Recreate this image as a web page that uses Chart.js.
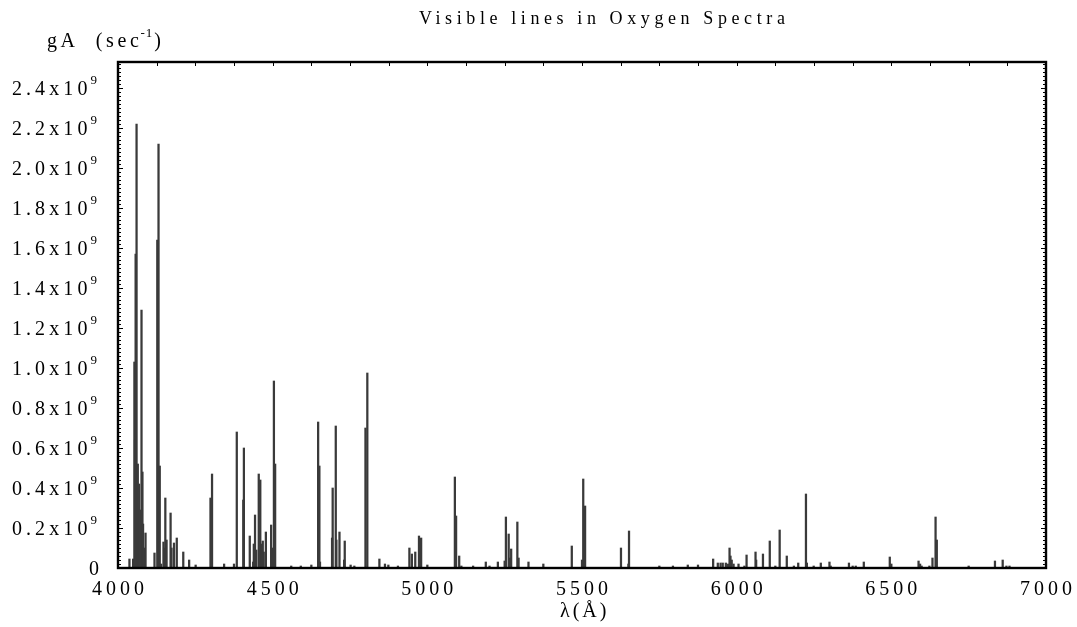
<!DOCTYPE html>
<html>
<head>
<meta charset="utf-8">
<script src="https://cdn.jsdelivr.net/npm/chart.js@4/dist/chart.umd.min.js"></script>
<style>
  html, body { margin: 0; padding: 0; background: #fff; }
  #wrap { width: 1077px; height: 627px; }
</style>
</head>
<body>
<div id="wrap"><canvas id="spectrum" width="1077" height="627"></canvas></div>
<script>
// wavelength of each line (Angstrom)
const lambdas = [
  4037, 4049, 4053, 4055, 4057, 4060, 4064, 4068, 4071, 4076, 4079, 4081, 4084, 4089,
  4118, 4127, 4131, 4135, 4139, 4147, 4149, 4153, 4157, 4170, 4173, 4181, 4190, 4211,
  4230, 4251, 4299, 4304, 4343, 4375, 4384, 4405, 4407, 4426, 4437, 4439, 4443, 4447,
  4455, 4460, 4463, 4468, 4471, 4478, 4495, 4499, 4504, 4508, 4560, 4591, 4625, 4647,
  4651, 4653, 4692, 4694, 4704, 4706, 4716, 4731, 4733, 4752, 4764, 4800, 4806, 4845,
  4863, 4874, 4905, 4942, 4950, 4961, 4973, 4980, 5000, 5089, 5093, 5103, 5110, 5148,
  5189, 5201, 5228, 5250, 5254, 5263, 5267, 5271, 5291, 5295, 5327, 5375, 5467, 5500,
  5504, 5510, 5626, 5650, 5652, 5750, 5794, 5842, 5875, 5924, 5939, 5948, 5955, 5965,
  5972, 5977, 5980, 5984, 5990, 6006, 6025, 6032, 6061, 6063, 6085, 6107, 6125, 6139,
  6162, 6185, 6199, 6224, 6227, 6249, 6272, 6300, 6304, 6363, 6375, 6385, 6411, 6495,
  6500, 6588, 6593, 6598, 6623, 6633, 6643, 6647, 6750, 6835, 6860, 6872, 6882
];
// gA of each line, in units of 1e9 per second
const gA = [
  0.045, 0.045, 1.03, 0.64, 1.57, 2.22, 0.52, 0.42, 0.29, 1.29, 0.48, 0.22, 0.10, 0.175,
  0.075, 1.64, 2.12, 0.51, 0.02, 0.13, 0.10, 0.35, 0.14, 0.275, 0.10, 0.125, 0.15, 0.08,
  0.04, 0.015, 0.35, 0.47, 0.02, 0.02, 0.68, 0.34, 0.60, 0.16, 0.03, 0.12, 0.265, 0.09,
  0.47, 0.44, 0.12, 0.135, 0.08, 0.18, 0.215, 0.10, 0.935, 0.52, 0.01, 0.01, 0.015, 0.73,
  0.51, 0.03, 0.15, 0.40, 0.71, 0.14, 0.18, 0.04, 0.135, 0.015, 0.01, 0.70, 0.975, 0.045,
  0.02, 0.015, 0.01, 0.10, 0.07, 0.08, 0.16, 0.15, 0.015, 0.455, 0.26, 0.06, 0.01, 0.01,
  0.03, 0.01, 0.03, 0.035, 0.255, 0.17, 0.05, 0.095, 0.23, 0.05, 0.03, 0.02, 0.11, 0.04,
  0.445, 0.31, 0.10, 0.02, 0.185, 0.01, 0.01, 0.015, 0.015, 0.045, 0.025, 0.025, 0.025, 0.025,
  0.02, 0.10, 0.06, 0.04, 0.02, 0.02, 0.01, 0.065, 0.08, 0.04, 0.07, 0.135, 0.01, 0.19,
  0.06, 0.01, 0.025, 0.37, 0.025, 0.01, 0.025, 0.03, 0.01, 0.025, 0.01, 0.01, 0.03, 0.055,
  0.02, 0.035, 0.02, 0.01, 0.01, 0.05, 0.255, 0.14, 0.01, 0.035, 0.04, 0.01, 0.01
];
const xTicks = [4000, 4500, 5000, 5500, 6000, 6500, 7000];
const yTicks = [0, 0.2, 0.4, 0.6, 0.8, 1.0, 1.2, 1.4, 1.6, 1.8, 2.0, 2.2, 2.4];
const yMax = 2.53;

const serif = '"Liberation Serif", "DejaVu Serif", serif';

// frame, inward ticks and all the text (letter-spaced, with superscripts)
const decorations = {
    id: 'decorations',
    afterDraw(chart) {
        const ctx = chart.ctx;
        const a = chart.chartArea;
        const xs = chart.scales.x;
        const ys = chart.scales.y;
        ctx.save();
        ctx.strokeStyle = '#000';
        ctx.fillStyle = '#000';

        // minor/major ticks on left and right
        ctx.lineWidth = 1;
        ctx.beginPath();
        for (let k = 0; k * 0.02 <= yMax + 1e-9; k++) {
            const y = Math.round(ys.getPixelForValue(k * 0.02e9)) + 0.5;
            const len = k % 10 === 0 ? 5 : 3;
            ctx.moveTo(a.left, y); ctx.lineTo(a.left + len, y);
            ctx.moveTo(a.right, y); ctx.lineTo(a.right - len, y);
        }
        // top ticks
        for (let w = 4125; w < 7000; w += 125) {
            const x = Math.round(xs.getPixelForValue(w)) + 0.5;
            ctx.moveTo(x, a.top); ctx.lineTo(x, a.top + 4);
        }
        ctx.stroke();

        // frame
        ctx.lineWidth = 2.4;
        ctx.strokeRect(a.left, a.top, a.right - a.left, a.bottom - a.top);

        // y labels
        ctx.textBaseline = 'alphabetic';
        yTicks.forEach(v => {
            const y = ys.getPixelForValue(v * 1e9);
            const right = a.left - 21;
            if (v === 0) {
                ctx.font = '20px ' + serif;
                ctx.letterSpacing = '0px';
                ctx.textAlign = 'right';
                ctx.fillText('0', right + 2, y + 7);
                return;
            }
            ctx.font = '13px ' + serif;
            ctx.letterSpacing = '0px';
            ctx.textAlign = 'right';
            ctx.fillText('9', right, y - 4);
            const sw = ctx.measureText('9').width;
            ctx.font = '20px ' + serif;
            ctx.letterSpacing = '4.1px';
            ctx.fillText(v.toFixed(1) + 'x10', right - sw + 1, y + 7);
        });

        // x labels
        ctx.font = '20px ' + serif;
        ctx.letterSpacing = '4px';
        ctx.textAlign = 'left';
        xTicks.forEach(v => {
            const x = xs.getPixelForValue(v);
            const w = ctx.measureText(String(v)).width - 4;
            ctx.fillText(String(v), x - w / 2, a.bottom + 27);
        });

        // x title
        ctx.letterSpacing = '3px';
        ctx.fillText('\u03bb(\u00c5)', 560, 617);

        // y title
        ctx.font = '20px ' + serif;
        ctx.letterSpacing = '3.6px';
        ctx.fillText('gA  (sec', 47, 47);
        let x = 47 + ctx.measureText('gA  (sec').width - 2;
        ctx.font = '13px ' + serif;
        ctx.letterSpacing = '1px';
        ctx.fillText('-1', x, 37);
        x += ctx.measureText('-1').width + 1;
        ctx.font = '20px ' + serif;
        ctx.letterSpacing = '0px';
        ctx.fillText(')', x, 47);

        // title
        ctx.font = '18px ' + serif;
        ctx.letterSpacing = '4.6px';
        ctx.fillText('Visible lines in Oxygen Spectra', 419, 24);

        ctx.restore();
    }
};

new Chart(document.getElementById('spectrum'), {
    type: 'bar',
    data: {
        datasets: [{
            data: lambdas.map((l, i) => ({ x: l, y: gA[i] * 1e9 })),
            backgroundColor: '#3a3a3a',
            borderWidth: 0,
            barThickness: 1.6,
            grouped: false
        }]
    },
    options: {
        responsive: false,
        animation: false,
        events: [],
        layout: { padding: { left: 118, right: 31, top: 62, bottom: 59 } },
        plugins: { legend: { display: false }, tooltip: { enabled: false } },
        scales: {
            x: { type: 'linear', display: false, min: 4000, max: 7000, offset: false },
            y: { display: false, min: 0, max: yMax * 1e9 }
        }
    },
    plugins: [decorations]
});
</script>
</body>
</html>
